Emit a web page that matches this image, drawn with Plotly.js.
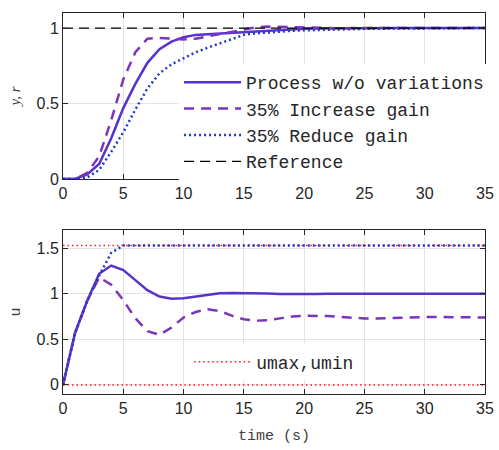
<!DOCTYPE html>
<html><head><meta charset="utf-8">
<script src="https://cdn.plot.ly/plotly-3.0.1.min.js"></script>
<style>html,body{margin:0;padding:0;background:#fff}</style>
</head><body>
<div id="chart" style="width:499px;height:450px"></div>
<script>
const t = [0,1,2,3,4,5,6,7,8,9,10,11,12,13,14,15,16,17,18,19,20,21,22,23,24,25,26,27,28,29,30,31,32,33,34,35];
const yProcess = [0,0,0.03,0.1,0.27,0.47,0.63,0.77,0.86,0.91,0.94,0.955,0.96,0.965,0.97,0.975,0.98,0.985,0.99,0.993,0.996,0.998,0.999,1,1,1,1,1,1,1,1,1,1,1,1,1];
const yIncrease = [0,0,0.04,0.15,0.39,0.66,0.84,0.93,0.935,0.93,0.925,0.93,0.945,0.96,0.98,0.995,1.005,1.01,1.008,1.004,1.0,0.998,0.998,0.999,1,1,1,1,1,1,1,1,1,1,1,1];
const yReduce = [0,0,0.01,0.06,0.18,0.31,0.46,0.6,0.7,0.76,0.8,0.84,0.87,0.9,0.93,0.955,0.965,0.972,0.978,0.982,0.985,0.988,0.99,0.992,0.994,0.995,0.996,0.997,0.998,0.999,0.999,1,1,1,1,1];
const refTime = [0,35];
const refValue = [1,1];
const uProcess = [0,0.57,0.92,1.22,1.31,1.26,1.15,1.04,0.97,0.945,0.95,0.97,0.99,1.005,1.01,1.01,1.008,1.003,0.998,0.996,0.997,0.999,1,1,1,1,1,1,1,1,1,1,1,1,1,1];
const uIncrease = [0,0.57,0.92,1.18,1.1,0.93,0.73,0.59,0.55,0.63,0.74,0.8,0.83,0.81,0.76,0.72,0.705,0.71,0.73,0.75,0.76,0.76,0.755,0.745,0.735,0.73,0.73,0.735,0.74,0.745,0.745,0.745,0.742,0.74,0.74,0.74];
const uReduce = [0,0.57,0.92,1.2,1.45,1.53,1.53,1.53,1.53,1.53,1.53,1.53,1.53,1.53,1.53,1.53,1.53,1.53,1.53,1.53,1.53,1.53,1.53,1.53,1.53,1.53,1.53,1.53,1.53,1.53,1.53,1.53,1.53,1.53,1.53,1.53];
const umax = 1.53, umin = 0;
const limTime = [0,35];
const names = ['Process w/o variations','35% Increase gain','35% Reduce gain','Reference','umax,umin'];
const xTicks = [0,5,10,15,20,25,30,35];

const cSolid = '#5533cc', cDash = '#7a35bb', cDot = '#2236cc';
const traces = [
  {x:limTime, y:[umax,umax], name:names[4], mode:'lines', line:{color:'#ff1a1a',width:1.5,dash:'1.5px,3px'}, legend:'legend2', xaxis:'x2', yaxis:'y2'},
  {x:limTime, y:[umin,umin], name:names[4], mode:'lines', line:{color:'#ff1a1a',width:1.5,dash:'1.5px,3px'}, showlegend:false, xaxis:'x2', yaxis:'y2'},
  {x:t, y:yProcess, name:names[0], mode:'lines', line:{color:cSolid,width:2.5}, xaxis:'x', yaxis:'y'},
  {x:t, y:yIncrease, name:names[1], mode:'lines', line:{color:cDash,width:2.5,dash:'10px,7px'}, xaxis:'x', yaxis:'y'},
  {x:t, y:yReduce, name:names[2], mode:'lines', line:{color:cDot,width:2.5,dash:'2px,3px'}, xaxis:'x', yaxis:'y'},
  {x:refTime, y:refValue, name:names[3], mode:'lines', line:{color:'#000',width:1.2,dash:'10px,6px'}, xaxis:'x', yaxis:'y'},
  {x:t, y:uProcess, name:names[0], mode:'lines', line:{color:cSolid,width:2.5}, showlegend:false, xaxis:'x2', yaxis:'y2'},
  {x:t, y:uIncrease, name:names[1], mode:'lines', line:{color:cDash,width:2.5,dash:'10px,7px'}, showlegend:false, xaxis:'x2', yaxis:'y2'},
  {x:t, y:uReduce, name:names[2], mode:'lines', line:{color:cDot,width:2.5,dash:'2px,3px'}, showlegend:false, xaxis:'x2', yaxis:'y2'}
];
const axCommon = {showline:true, linecolor:'#262626', linewidth:1, mirror:'ticks', ticks:'inside', ticklen:5, tickcolor:'#262626',
  showgrid:true, gridcolor:'#e3e3e3', gridwidth:1, zeroline:false, tickfont:{family:'Liberation Sans, Arial, sans-serif', size:16, color:'#262626'}};
const layout = {
  width:499, height:450, paper_bgcolor:'#fff', plot_bgcolor:'#fff',
  margin:{l:63, r:10, t:13, b:56},
  xaxis: Object.assign({}, axCommon, {domain:[0,1], range:[0,35], tickvals:xTicks, anchor:'y'}),
  yaxis: Object.assign({}, axCommon, {domain:[0.5643,1], range:[0,1.1], tickvals:[0,0.5,1], anchor:'x',
    title:{text:'<i>y, r</i>', font:{family:'Liberation Serif, Times New Roman, serif', size:15, color:'#404040'}, standoff:12}}),
  xaxis2: Object.assign({}, axCommon, {domain:[0,1], range:[0,35], tickvals:xTicks, anchor:'y2',
    title:{text:'time (s)', font:{family:'Liberation Mono, Courier New, monospace', size:15, color:'#404040'}, standoff:13}}),
  yaxis2: Object.assign({}, axCommon, {domain:[0,0.4304], range:[-0.1,1.7], tickvals:[0,0.5,1,1.5], anchor:'x2',
    title:{text:'u', font:{family:'Liberation Mono, Courier New, monospace', size:15, color:'#404040'}, standoff:12}}),
  showlegend:true,
  legend:{x:0.275, y:0.714, xanchor:'left', yanchor:'middle', bgcolor:'rgba(255,255,255,1)', borderwidth:0,
    font:{family:'Liberation Mono, Courier New, monospace', size:18, color:'#262626'}, itemwidth:57, tracegroupgap:0},
  legend2:{x:0.299, y:0.084, xanchor:'left', yanchor:'middle', bgcolor:'rgba(255,255,255,1)', borderwidth:0,
    font:{family:'Liberation Mono, Courier New, monospace', size:18, color:'#262626'}, itemwidth:57}
};
Plotly.newPlot('chart', traces, layout, {staticPlot:true, displayModeBar:false});
</script>
</body></html>
